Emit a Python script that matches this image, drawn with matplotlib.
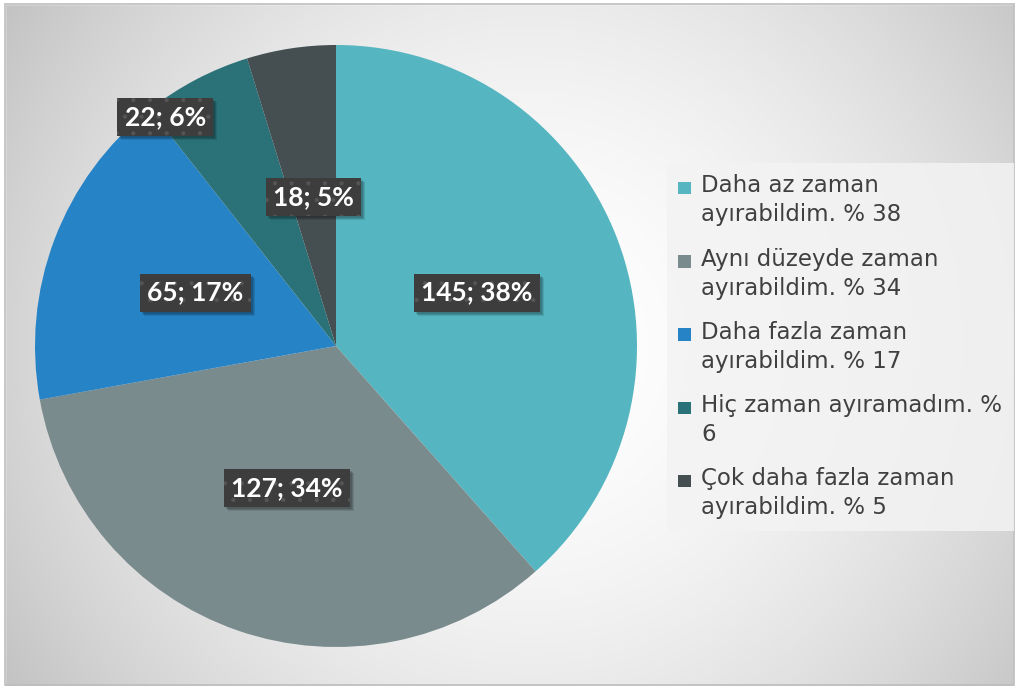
import textwrap
import numpy as np
import matplotlib
matplotlib.use("Agg")
import matplotlib.pyplot as plt
from matplotlib.patches import Rectangle
from matplotlib.transforms import IdentityTransform
from matplotlib.legend_handler import HandlerPatch

# ---- data ----
categories = ["Daha az zaman ayırabildim. % 38",
              "Aynı düzeyde zaman ayırabildim. % 34",
              "Daha fazla zaman ayırabildim. % 17",
              "Hiç zaman ayıramadım. % 6",
              "Çok daha fazla zaman ayırabildim. % 5"]
counts = [145, 127, 65, 22, 18]
percents = [38, 34, 17, 6, 5]
colors = ["#55b5c0", "#7a8b8d", "#2683c6", "#2b7178", "#454f52"]

# label radial distance (fraction of radius) and angle tweak (deg)
label_dist = [0.5, 0.5, 0.5, 0.95, 0.5]
label_dang = [0, 0, 0, 9, 0]

W, H = 1017, 686
fig = plt.figure(figsize=(W / 100, H / 100), dpi=100)

# ---- background radial gradient ----
bg = fig.add_axes([0, 0, 1, 1], zorder=-10)
yy, xx = np.mgrid[0:H, 0:W]
cx, cy = 530, 345
d = np.sqrt((xx - cx) ** 2 + (yy - cy) ** 2)
val = 1.0 - 0.22 * np.clip(d / 600.0, 0, 1.05) ** 1.8
img = np.dstack([val, val, val])
bg.imshow(img, extent=[0, W, H, 0], aspect="auto", interpolation="bilinear")
bg.set_xlim(0, W)
bg.set_ylim(H, 0)
bg.add_patch(Rectangle((0, 0), W, 4, color="white", zorder=5))
bg.add_patch(Rectangle((0, 0), 5, H, color="white", zorder=5))
bg.add_patch(Rectangle((1014, 0), 3, H, color="white", zorder=5))
bg.add_patch(Rectangle((5, 4), 1009, 681, fill=False, edgecolor="#bdbdbd", lw=1.2, zorder=6))
bg.axis("off")

# ---- pie ----
pcx, pcy, rad = 336, 686 - 346, 301
ax = fig.add_axes([(pcx - rad) / W, (pcy - rad) / H, 2 * rad / W, 2 * rad / H])
wedges, _ = ax.pie(counts, colors=colors, startangle=90, counterclock=False,
                   radius=1.0, wedgeprops=dict(linewidth=0))
ax.set_xlim(-1, 1)
ax.set_ylim(-1, 1)
ax.set_aspect("equal")
ax.axis("off")

plt.rcParams["hatch.linewidth"] = 0.6
label_texts = []
for i, w in enumerate(wedges):
    ang = np.deg2rad((w.theta1 + w.theta2) / 2 + label_dang[i])
    x = label_dist[i] * np.cos(ang)
    y = label_dist[i] * np.sin(ang)
    txt = f"{counts[i]}; {percents[i]}%"
    t = ax.text(x, y, txt, ha="center", va="center", fontsize=19,
                fontweight="bold", family="Lato", color="white", zorder=10,
                bbox=dict(boxstyle="square,pad=0.27", facecolor="#3d3d3d",
                          edgecolor="#555555", linewidth=0, hatch="."))
    label_texts.append(t)


# ---- legend ----
def square_top(legend, orig_handle, xdescent, ydescent, width, height, fontsize):
    s = 0.55 * fontsize
    return Rectangle((-xdescent, -ydescent + 0.6 * fontsize), s, s)


labels = [textwrap.fill(c, 23) for c in categories]
leg = fig.legend(wedges, labels, loc="upper left",
                 bbox_to_anchor=(667 / W, 1 - 163 / H), borderaxespad=0,
                 frameon=True, fancybox=False,
                 prop=dict(family="DejaVu Sans", size=16.5),
                 handlelength=0.55, handleheight=0.55, handletextpad=0.45,
                 labelspacing=0.93, borderpad=0.5, labelcolor="#404040",
                 handler_map={type(wedges[0]): HandlerPatch(patch_func=square_top)})
for tx in leg.get_texts():
    tx.set_linespacing(1.33)
leg.get_frame().set_facecolor("#f3f3f3")
leg.get_frame().set_alpha(0.85)
leg.get_frame().set_edgecolor("none")

# ---- label shadows ----
fig.canvas.draw()
rend = fig.canvas.get_renderer()
for t in label_texts:
    bb = t.get_bbox_patch().get_window_extent(rend)
    for k, a in [(4, 0.10), (3, 0.12), (2, 0.15)]:
        ax.add_patch(Rectangle((bb.x0 + k, bb.y0 - k), bb.width, bb.height,
                               transform=IdentityTransform(), facecolor="black",
                               edgecolor="none", alpha=a, zorder=9))

fig.savefig("out.png", dpi=100)
